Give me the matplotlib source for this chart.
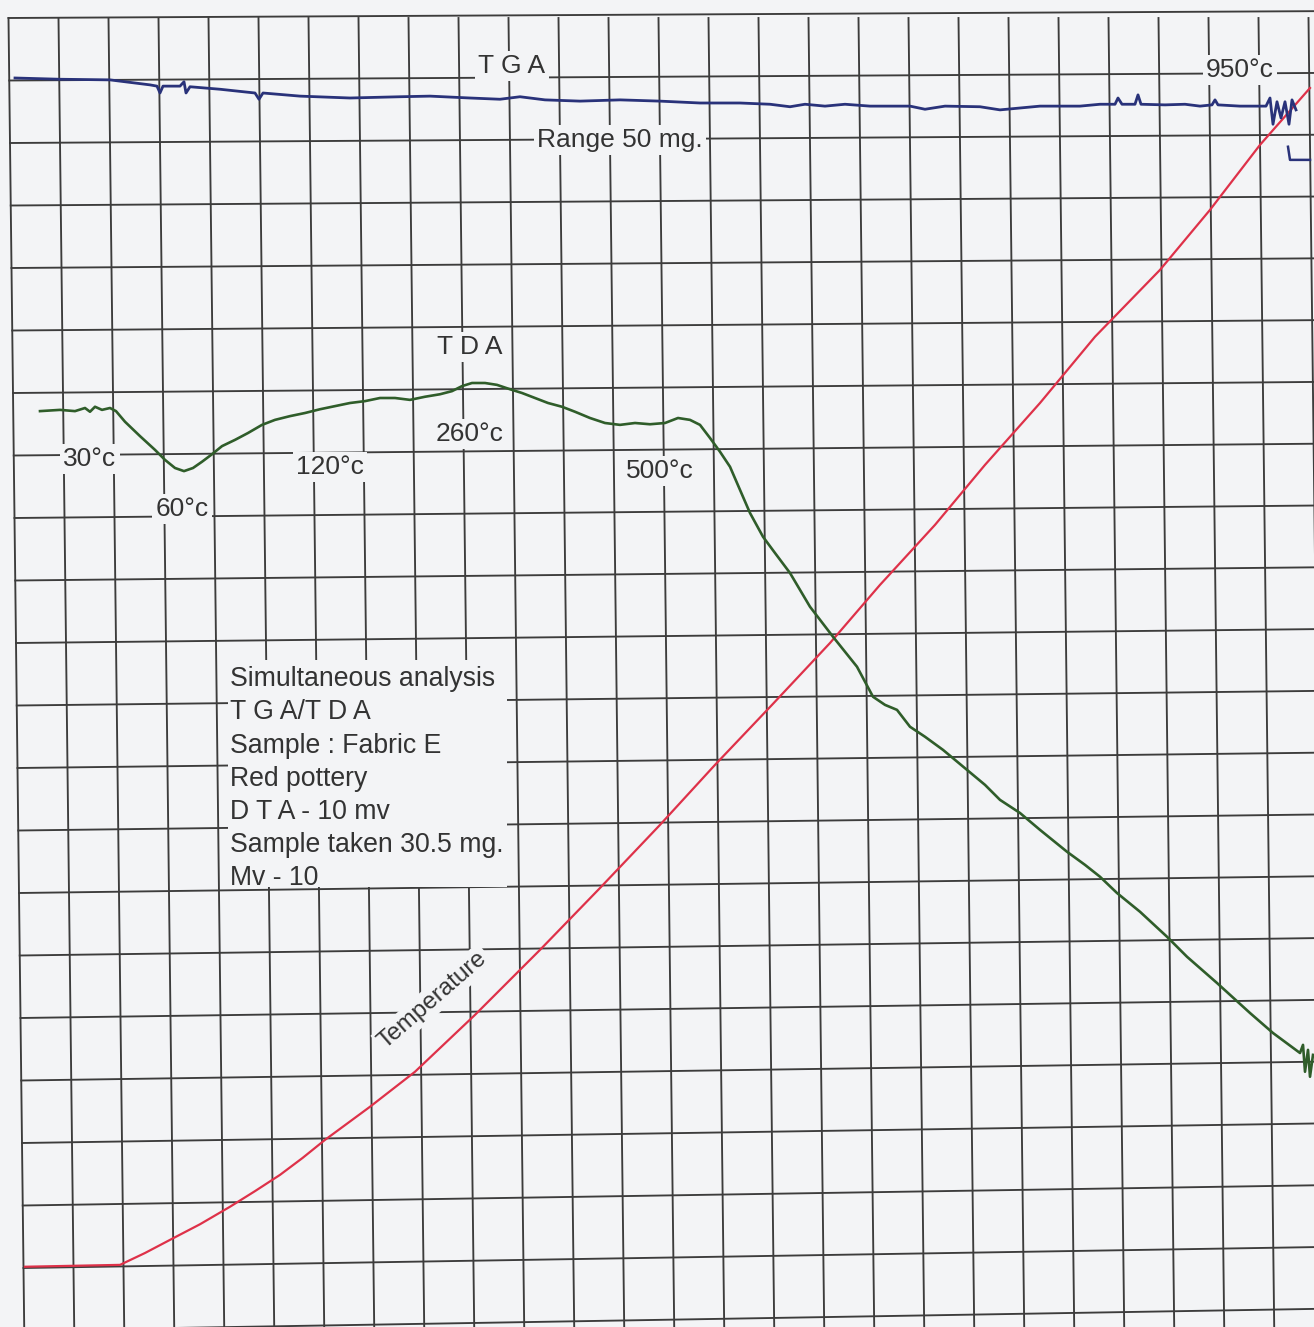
import matplotlib.pyplot as plt
from matplotlib.patches import Rectangle

plt.rcParams['font.family'] = ['Liberation Sans', 'DejaVu Sans']

# all positions in chart divisions: x = columns from the left border, y = rows from the top border
n_cols = 26
n_rows = 21

# TGA trace (blue)
tga_x = [0.13, 1.03, 2.03, 2.83, 2.97, 3.03, 3.09, 3.43, 3.51, 3.55, 3.63, 4.23, 4.93, 5.01, 5.09,
         5.83, 6.83, 7.83, 8.43, 9.23, 9.83, 10.23, 10.73, 11.43, 12.23, 13.03, 13.83, 14.63, 15.23,
         15.63, 15.93, 16.33, 16.73, 17.23, 18.03, 18.33, 18.73, 19.43, 19.83, 20.63, 21.43, 21.83,
         22.13, 22.19, 22.27, 22.53, 22.59, 22.65, 23.13, 23.53, 23.83, 24.07, 24.13, 24.19, 24.63,
         25.15, 25.23, 25.29, 25.37, 25.45, 25.53, 25.61, 25.67, 25.75]
tga_y = [0.96, 0.98, 0.99, 1.07, 1.09, 1.20, 1.09, 1.09, 1.02, 1.20, 1.10, 1.14, 1.20, 1.30, 1.20,
         1.25, 1.28, 1.26, 1.25, 1.28, 1.30, 1.26, 1.31, 1.33, 1.31, 1.33, 1.36, 1.36, 1.38,
         1.42, 1.38, 1.41, 1.38, 1.41, 1.41, 1.46, 1.41, 1.42, 1.47, 1.41, 1.41, 1.38,
         1.38, 1.28, 1.38, 1.38, 1.23, 1.38, 1.39, 1.38, 1.41, 1.39, 1.31, 1.39, 1.41,
         1.41, 1.28, 1.70, 1.34, 1.60, 1.34, 1.70, 1.31, 1.47]
tga_tail_x = [25.59, 25.63, 26.03]
tga_tail_y = [2.06, 2.27, 2.27]

# TDA trace (green)
tda_x = [0.63, 1.03, 1.33, 1.53, 1.63, 1.73, 1.87, 2.03, 2.15, 2.33, 2.63, 2.93, 3.13, 3.33, 3.51,
         3.69, 3.87, 4.07, 4.27, 4.53, 4.79, 5.07, 5.33, 5.63, 5.93, 6.23, 6.53, 6.83, 7.13, 7.43,
         7.73, 8.03, 8.33, 8.63, 8.87, 9.07, 9.27, 9.53, 9.77, 10.03, 10.27, 10.53, 10.79, 11.07,
         11.33, 11.63, 11.93, 12.23, 12.53, 12.83, 13.13, 13.39, 13.63, 13.83, 14.03, 14.23, 14.43,
         14.63, 14.83, 15.09, 15.33, 15.63, 16.03, 16.49, 16.73, 16.97, 17.29, 17.53, 17.77, 18.03,
         18.33, 18.69, 19.17, 19.53, 19.83, 20.23, 20.63, 21.17, 21.53, 21.83, 22.17, 22.63, 23.17,
         23.57, 24.17, 24.83, 25.29, 25.83, 25.89, 25.93, 25.99, 26.03, 26.09]
tda_y = [6.29, 6.27, 6.29, 6.24, 6.30, 6.22, 6.27, 6.24, 6.29, 6.46, 6.69, 6.91, 7.07, 7.20, 7.25,
         7.20, 7.10, 6.98, 6.85, 6.75, 6.64, 6.51, 6.43, 6.37, 6.32, 6.26, 6.21, 6.16, 6.13, 6.08,
         6.08, 6.11, 6.06, 6.02, 5.97, 5.89, 5.84, 5.84, 5.87, 5.94, 6.00, 6.08, 6.16, 6.22,
         6.30, 6.40, 6.48, 6.51, 6.48, 6.50, 6.48, 6.40, 6.43, 6.51, 6.72, 6.94, 7.18,
         7.55, 7.92, 8.30, 8.56, 8.88, 9.42, 9.90, 10.14, 10.38, 10.86, 10.99, 11.07, 11.34,
         11.50, 11.71, 12.03, 12.27, 12.51, 12.72, 12.99, 13.34, 13.55, 13.74, 14.00, 14.30, 14.70,
         15.02, 15.44, 15.92, 16.24, 16.56, 16.43, 16.86, 16.51, 16.94, 16.59]

# Temperature trace (red)
temp_x = [0.33, 2.23, 2.73, 3.23, 3.83, 4.43, 4.93, 5.43, 5.88, 6.33, 7.23, 8.13, 9.33, 10.63, 11.83,
          13.03, 14.13, 15.27, 16.43, 17.43, 18.53, 19.53, 20.63, 21.73, 23.03, 24.03, 25.03, 26.03]
temp_y = [19.98, 19.95, 19.76, 19.55, 19.30, 19.02, 18.77, 18.51, 18.24, 17.95, 17.42, 16.86, 15.95,
          14.91, 13.92, 12.91, 11.95, 10.99, 10.00, 9.07, 8.11, 7.15, 6.16, 5.10, 4.03, 3.07, 2.03,
          1.12]

# labels written on the chart: (text, x, y)
labels = [
    ('T G A', 10.07, 0.77),
    ('Range 50 mg.', 12.23, 1.95),
    ('950°c', 24.63, 0.83),
    ('T D A', 9.23, 5.26),
    ('30°c', 1.63, 7.06),
    ('60°c', 3.47, 7.86),
    ('120°c', 6.43, 7.18),
    ('260°c', 9.23, 6.66),
    ('500°c', 13.03, 7.25),
]
note_lines = ['Simultaneous analysis', 'T G A/T D A', 'Sample : Fabric E', 'Red pottery',
              'D T A - 10 mv', 'Sample taken 30.5 mg.', 'Mv - 10']

PAPER = '#f3f4f6'
INK = '#333333'
GRID = '#3c3c3c'

fig = plt.figure(figsize=(13.14, 13.27), dpi=100, facecolor=PAPER)
ax = fig.add_axes([0, 0, 1, 1])
ax.set_facecolor(PAPER)
ax.set_xlim(-0.17, 26.11)
ax.set_ylim(20.944, -0.288)
ax.axis('off')

# slightly skewed paper grid, as on the scan
lean = 0.015      # columns drift right going down
droop = -0.109    # rows rise toward the right edge
squeeze = -0.0112
for k in range(n_cols + 1):
    ax.plot([k, k + lean * 21.2], [0, 21.2], color=GRID, lw=1.35, zorder=1)
for j in range(n_rows + 1):
    x0 = lean * j
    y_end = j + (droop + squeeze * j) * 26.5 / 26
    ax.plot([x0, 26.5], [j, y_end], color=GRID, lw=1.35, zorder=1)

# blank box for the notes
ax.add_patch(Rectangle((4.39, 10.27), 5.58, 3.63, fc=PAPER, ec='none', zorder=2))

ax.plot(temp_x, temp_y, color='#de3149', lw=1.6, zorder=3)
ax.plot(tda_x, tda_y, color='#2f5d2a', lw=1.9, zorder=3)
ax.plot(tga_x, tga_y, color='#29327a', lw=2.0, zorder=3)
ax.plot(tga_tail_x, tga_tail_y, color='#29327a', lw=1.8, zorder=3)

box = dict(boxstyle='square,pad=0.12', fc=PAPER, ec='none')
for txt, x, y in labels:
    ax.text(x, y, txt, fontsize=19, color=INK, ha='center', va='center', bbox=box, zorder=4)

ax.text(4.43, 10.37, '\n'.join(note_lines), fontsize=19.2, color=INK, ha='left', va='top',
        linespacing=1.36, zorder=4)

ax.text(8.49, 15.71, 'Temperature', fontsize=17.5, color=INK, rotation=41,
        rotation_mode='anchor', ha='center', va='center', bbox=box, zorder=4)

fig.savefig('out.png', dpi=100, facecolor=PAPER)
